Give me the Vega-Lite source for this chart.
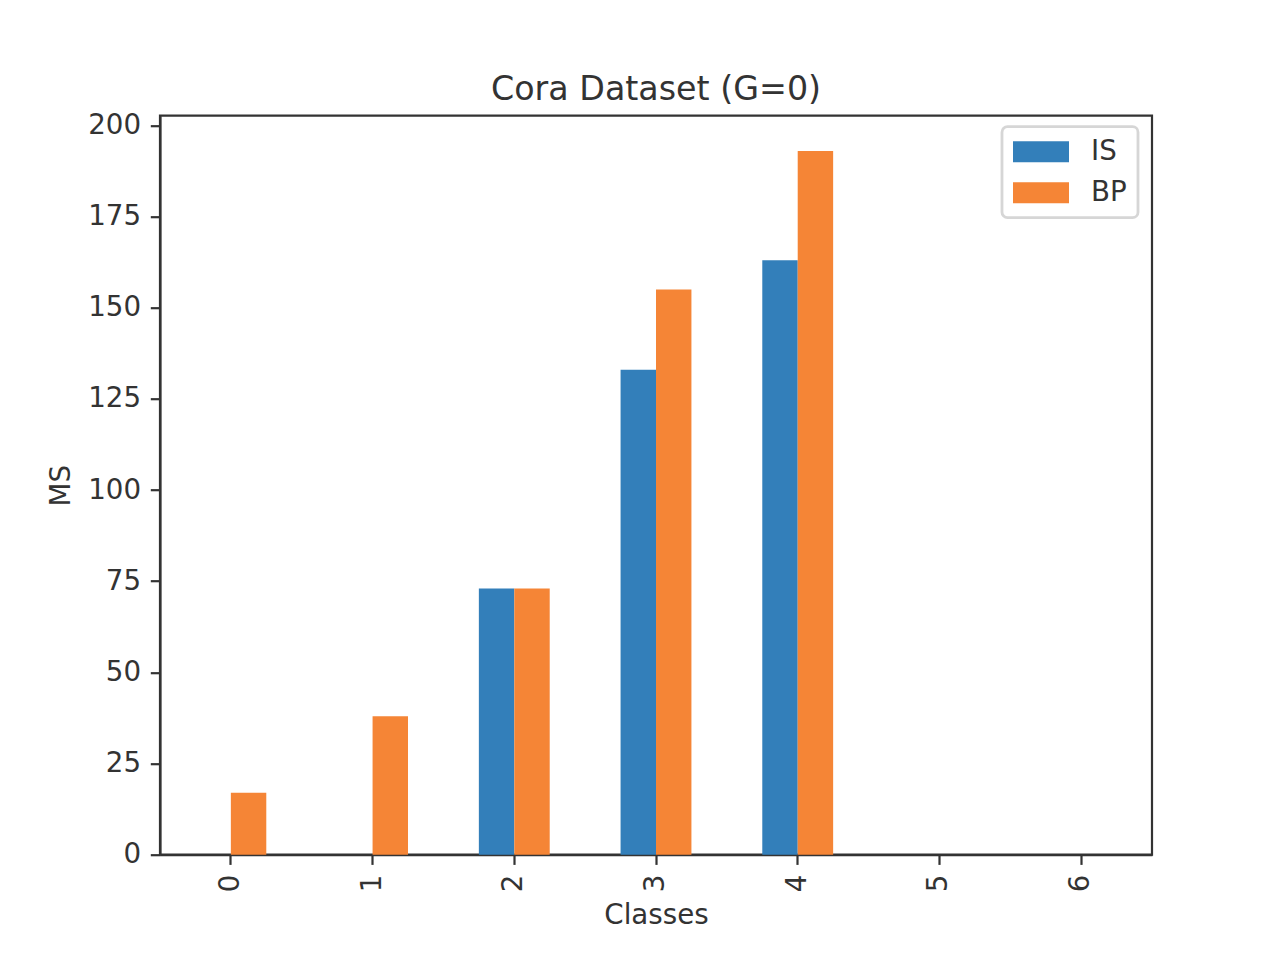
{
  "$schema": "https://vega.github.io/schema/vega-lite/v6.json",
  "width": 992,
  "height": 739,
  "autosize": {"type": "none"},
  "padding": {"left": 160, "top": 115.7, "right": 128, "bottom": 105.3},
  "background": "white",
  "title": {
    "text": "Cora Dataset (G=0)",
    "font": "DejaVu Sans",
    "fontSize": 33.3,
    "fontWeight": "normal",
    "color": "#333333",
    "anchor": "middle",
    "baseline": "alphabetic",
    "offset": -22
  },
  "data": {
    "values": [
      {"class": "0", "series": "IS", "ms": 0},
      {"class": "0", "series": "BP", "ms": 17},
      {"class": "1", "series": "IS", "ms": 0},
      {"class": "1", "series": "BP", "ms": 38},
      {"class": "2", "series": "IS", "ms": 73},
      {"class": "2", "series": "BP", "ms": 73},
      {"class": "3", "series": "IS", "ms": 133},
      {"class": "3", "series": "BP", "ms": 155},
      {"class": "4", "series": "IS", "ms": 163},
      {"class": "4", "series": "BP", "ms": 193},
      {"class": "5", "series": "IS", "ms": 0},
      {"class": "5", "series": "BP", "ms": 0},
      {"class": "6", "series": "IS", "ms": 0},
      {"class": "6", "series": "BP", "ms": 0}
    ]
  },
  "mark": {"type": "bar"},
  "encoding": {
    "x": {
      "field": "class",
      "type": "nominal",
      "scale": {"paddingInner": 0.5, "paddingOuter": 0.25},
      "axis": {"title": "Classes", "labelAngle": 270, "titlePadding": 10}
    },
    "xOffset": {
      "field": "series",
      "type": "nominal",
      "scale": {"domain": ["IS", "BP"], "paddingInner": 0, "paddingOuter": 0}
    },
    "y": {
      "field": "ms",
      "type": "quantitative",
      "scale": {"domain": [0, 202.65], "nice": false},
      "axis": {
        "title": "MS",
        "values": [0, 25, 50, 75, 100, 125, 150, 175, 200],
        "titlePadding": 12
      }
    },
    "color": {
      "field": "series",
      "type": "nominal",
      "scale": {"domain": ["IS", "BP"], "range": ["#337fba", "#f58536"]},
      "legend": {
        "title": null,
        "orient": "none",
        "legendX": 842,
        "legendY": 11,
        "symbolType": "M-2,-0.75H2V0.75H-2Z",
        "symbolSize": 784,
        "symbolOffset": 14,
        "symbolStrokeWidth": 0,
        "symbolOpacity": 1,
        "labelFont": "DejaVu Sans",
        "labelFontSize": 27.7,
        "labelColor": "#333333",
        "labelOffset": 36,
        "rowPadding": 13,
        "padding": 11,
        "strokeColor": "#d6d6d6",
        "cornerRadius": 5.5,
        "fillColor": "white",
        "encode": {"legend": {"update": {"strokeWidth": {"value": 2.8}}}}
      }
    }
  },
  "config": {
    "view": {"stroke": "#333333", "strokeWidth": 2.2},
    "axis": {
      "grid": false,
      "domainColor": "#333333",
      "domainWidth": 2.2,
      "tickColor": "#333333",
      "tickWidth": 2.2,
      "tickSize": 9.7,
      "labelPadding": 9.7,
      "labelFont": "DejaVu Sans",
      "labelFontSize": 27.7,
      "labelColor": "#333333",
      "titleFont": "DejaVu Sans",
      "titleFontSize": 27.7,
      "titleFontWeight": "normal",
      "titleColor": "#333333"
    }
  }
}
